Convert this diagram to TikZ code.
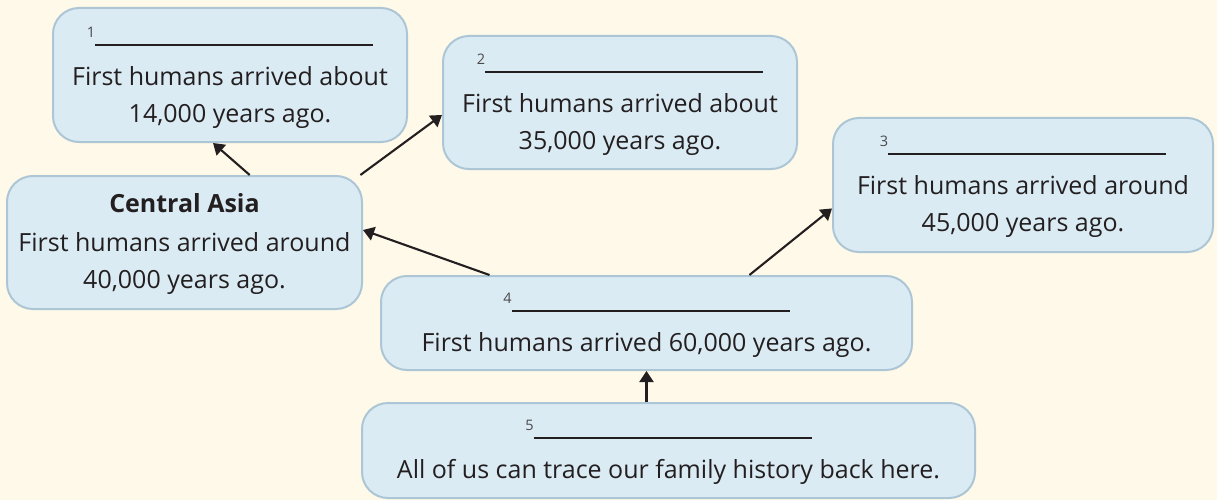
\documentclass[tikz,border=0pt]{standalone}
\usepackage{fontspec}
\setmainfont{Open Sans}
\usetikzlibrary{arrows.meta, positioning}

\definecolor{pagecream}{HTML}{FEF9E8}
\definecolor{boxblue}{HTML}{DBEBF4}
\definecolor{boxrim}{HTML}{ADC6D6}
\definecolor{inkdark}{HTML}{231F20}
\definecolor{numgrey}{HTML}{4A4A4A}

\newcommand{\blankno}[1]{\raisebox{8.5pt}{\fontsize{14.5}{14.5}\selectfont\color{numgrey}#1}\rule{278pt}{2.4pt}}

\begin{document}
\begin{tikzpicture}[x=1pt, y=-1pt,
    region/.style={rectangle, draw=boxrim, fill=boxblue, line width=2pt, rounded corners=26pt, inner sep=0pt},
    words/.style={anchor=north, align=center, text=inkdark, inner sep=0pt, font=\fontsize{25}{37}\selectfont},
    arrow/.style={-{Triangle[length=11pt, width=14pt]}, line width=2.1pt, draw=inkdark}
]
    \fill[pagecream] (0,0) rectangle (1217,500);
    \useasboundingbox (0,0) rectangle (1217,500);

    % boxes
    \node[region, minimum width=354pt, minimum height=134pt] (b1) at (230,75) {};
    \node[region, minimum width=354pt, minimum height=133pt] (b2) at (620,102.5) {};
    \node[region, minimum width=380pt, minimum height=134pt] (b3) at (1023,185) {};
    \node[region, minimum width=355pt, minimum height=133pt] (ca) at (184.5,242.5) {};
    \node[region, minimum width=531pt, minimum height=94pt] (b4) at (646.5,323) {};
    \node[region, minimum width=613pt, minimum height=95pt] (b5) at (668.5,450.5) {};

    % texts
    \node[words] (t1) at ([yshift=-20pt]b1.north) {\blankno{1}\\[2pt] First humans arrived about\\ 14,000 years ago.};
    \node[words] (t2) at ([yshift=-19pt]b2.north) {\blankno{2}\\[2pt] First humans arrived about\\ 35,000 years ago.};
    \node[words] (t3) at ([yshift=-19pt]b3.north) {\blankno{3}\\[2pt] First humans arrived around\\ 45,000 years ago.};
    \node[words] (tca) at ([yshift=-18pt]ca.north) {\textbf{Central Asia}\\[2pt] First humans arrived around\\ 40,000 years ago.};
    \node[words] (t4) at ([yshift=-18pt]b4.north) {\blankno{4}\\[2pt] First humans arrived 60,000 years ago.};
    \node[words] (t5) at ([yshift=-18pt]b5.north) {\blankno{5}\\[2pt] All of us can trace our family history back here.};

    % connectors
    \draw[arrow] (ca.46) -- (b1.256);
    \draw[arrow] (ca.21) -- (b2.184);
    \draw[arrow] (b4.163) -- (ca.4);
    \draw[arrow] (b4.25) -- (b3.187);
    \draw[arrow] (b4.south |- b5.north) -- (b4.south);
\end{tikzpicture}
\end{document}
